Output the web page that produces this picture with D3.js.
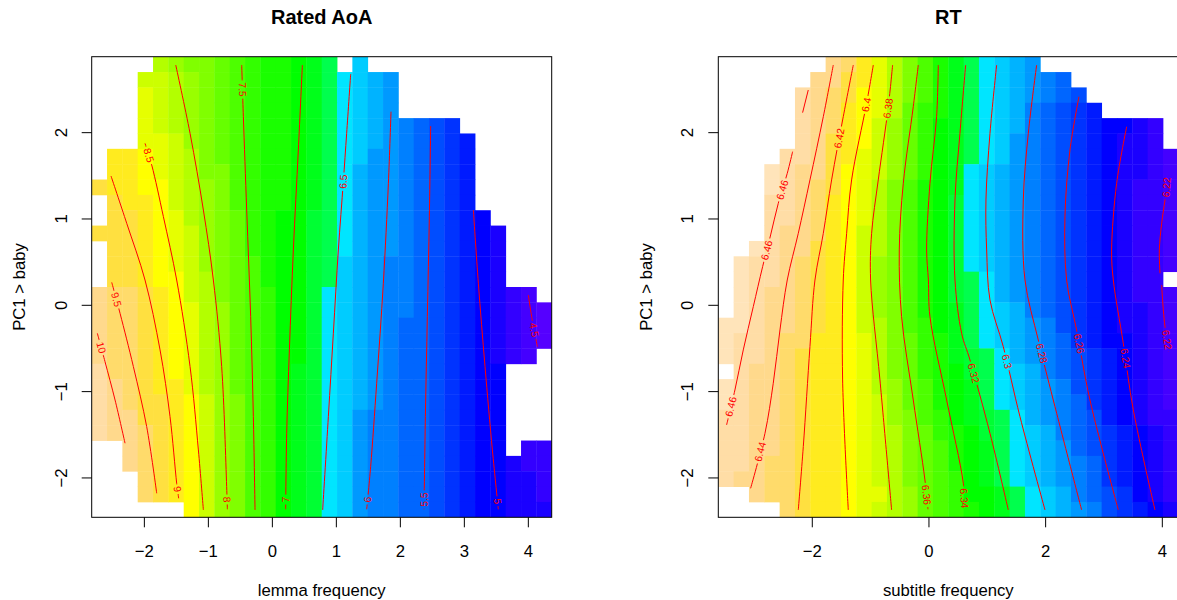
<!DOCTYPE html>
<html><head><meta charset="utf-8">
<script src="https://cdn.jsdelivr.net/npm/d3@7"></script>
<style>
body{margin:0;background:#fff}
svg{display:block}
text{font-family:"Liberation Sans",Arial,Helvetica,sans-serif}
</style>
</head><body>
<svg id="chart" width="1177" height="600"></svg>
<script>
// ---------------- data ----------------
const paletteKeys = "0123456789ABCDEFGHIJKLMNOPQRSTUVWX".split("");
const paletteColors = [
  "#FFE4BA","#FFDDA6","#FFD98C","#FFDB6B","#FFE040","#FFEB1F","#FFFF00","#E6FF00",
  "#CCFF00","#B3FF00","#99FF00","#80FF00","#66FF00","#4DFF00","#33FF00","#1AFF00",
  "#00FF00","#00FF1A","#00FF33","#00FF4D","#00E5FF","#00CCFF","#00B3FF","#0099FF",
  "#0080FF","#0066FF","#004DFF","#0033FF","#001AFF","#0000FF","#1A00FF","#3300FF",
  "#4400FF","#5500FF"];

const yDomain = [-2.456, 2.880];
const yTicks = [-2, -1, 0, 1, 2];

const aoaXDomain = [-2.823, 4.365];
const aoaXTicks = [-2, -1, 0, 1, 2, 3, 4];
const rtXDomain = [-3.611, 4.274];
const rtXTicks = [-2, 0, 2, 4];

const titles = ["Rated AoA", "RT"];
const xTitles = ["lemma frequency", "subtitle frequency"];
const yTitle = "PC1 > baby";

// colour class of each grid cell, top row first ('.' = no data)
const aoaRows = [
  "....9ABBCDEFFGHJ.L............",
  "...889ABCDEFFGHJKLMN..........",
  "...789ABCDEFFGHJKLMN..........",
  "...789ABCDEFFGHJKLMN..........",
  "...789ABCDEFFGHJKLMNOPQR......",
  "...778ABCDEFFGHJKLMNOPQRS.....",
  ".556789BCDEFFGHJKLNNOPQRS.....",
  ".556789BBDEFFGHJKMNNOPQRS.....",
  "4556689ABDEFFGHJKMNNOPQRS.....",
  ".455689ABDEFFGHJKMNNOPQRS.....",
  ".445679ABCEFGGIJKMNNOPQRST....",
  "4445678ABCEFGGIJKMNNOPQRSTU...",
  ".445678ABCEFGGIJKMNNOPQRSTU...",
  ".445678ABCDFGGIJLMNOOPQRSTU...",
  ".4456689BCDFGGIJLMNOOPQRSTU...",
  "23345689BCDEGGIKLMNOOPQRSTUVW.",
  "23345679ACDEGGIKLMNOOPQRSTUVWX",
  "23345679ACDEGGIKLMNOPPQRSTUVWX",
  "23345679ACDEGGIKLMNOPPQRSTUVWX",
  "23345679ACDEGGIKLMNOPPQRSTUVW.",
  "13345679ACDEGHIKLMNOPPQRSTT...",
  "12345579ACDEGHIKLMNOPPQRSTT...",
  "12344568ABDEGHIKLMNOPPQRSTT...",
  "12244568ABDEGHIKLNOOPPQRSTT...",
  "12234568ABDEGHIKLNOOPPQRSTT...",
  "..234568ABDEGHIKLNOOPPQRSTT.VV",
  "..234568ABDEGHIKLNOOPPQRSTTUVV",
  "...34568ABDEGHIKLNOOPPQRSTTUUV",
  "...34568ABDEGHIKLNOOPPQRSTTUUV",
  "......68ABDEGHIKLNOOPPQRSTTUUU"
];

const rtRows = [
  ".......23579BDFHJKLMN.........",
  "......224579BDFHJKLMNOP.......",
  ".....1234679BDFHJKLMNOPQ......",
  ".....1235679CEFHJKLMOPQRS.....",
  ".....123568ACEGHJKLMOPQRSTTUV.",
  ".....124568ACEGHJKLNOPQRSTUUV.",
  "....1124578ACEGHJKLNOPQRSTUUVW",
  "...01224678ACEGHKLMNOPQRSTUUVW",
  "...01234679BDFGHKLMNOPQRSTUVVW",
  "...11235679BDFGIKLMNOPQRSTUVVW",
  "...11235679BDFGIKLMNOPQRSTUVVW",
  "...12235689BDFGIKLMNOPQRSTUVVW",
  "..012245689BDFGIKLMNOPQRSTUVVW",
  ".011234568ABDFGIKLMNOPQRSTUVVW",
  ".011234568ABDFGIJKMNOPQRSTUVV.",
  ".012234568ABDFGIJKMNOPQRSTUVVW",
  ".012234568ABDFGHJKLMOPQRSTUUVW",
  "00122345689BDEGHJKLMNOQRSTUUVW",
  "01123355679BCEFHJKLMNOPRSTTUVW",
  "01123455679BCEFHIJKMNOPQRSTUVW",
  ".1223455679BCEFGIJKLMOPQRSTUVW",
  "01223455679ACDFGHJKLMNOQRSTUVW",
  "01223455678ACDFGHJKLMNOPRSTUVW",
  "11223455678ABDEGHIJKMNOPQSTUVV",
  "112234556789BCEFGIJKLMOPQRSTUV",
  "112234556789BCDFGHJKLMNPQRSTUV",
  "112334556789BCDFGHJKLMNOPRSTUV",
  "122334556789BCDEGHJKLMNOPRSTUV",
  "..2334556779ACDEGGHJKLMOPQRTUV",
  "....34556789ACDEFGHJKLMNOQRSTU"
];

// contour lines (data coordinates) with label anchor points
const aoaContours = [
  {level: 10,  pts: [[-2.735,-0.324],[-2.615,-0.653],[-2.458,-1.097],[-2.302,-1.598]], labels: [[-2.68,-0.49]]},
  {level: 9.5, pts: [[-2.510,0.266],[-2.380,-0.093],[-2.172,-0.710],[-1.964,-1.405],[-1.807,-2.178]], labels: [[-2.458,0.062]]},
  {level: 9,   pts: [[-2.521,1.498],[-2.276,0.950],[-1.990,0.293],[-1.755,-0.517],[-1.599,-1.290],[-1.495,-2.062],[-1.464,-2.236]], labels: [[-1.484,-2.131]]},
  {level: 8.5, pts: [[-1.990,1.876],[-1.885,1.625],[-1.703,1.027],[-1.495,0.293],[-1.286,-0.710],[-1.156,-1.676],[-1.078,-2.371]], labels: [[-1.964,1.730]]},
  {level: 8,   pts: [[-1.510,2.784],[-1.286,1.992],[-1.078,1.104],[-0.922,0.293],[-0.792,-0.710],[-0.714,-2.100],[-0.703,-2.363]], labels: [[-0.708,-2.25]]},
  {level: 7.5, pts: [[-0.479,2.784],[-0.453,2.185],[-0.401,1.104],[-0.339,-0.131],[-0.297,-1.290],[-0.271,-2.371]], labels: [[-0.479,2.50]]},
  {level: 7,   pts: [[0.469,2.784],[0.406,1.799],[0.328,0.641],[0.266,-0.517],[0.224,-1.483],[0.208,-2.363]], labels: [[0.208,-2.25]]},
  {level: 6.5, pts: [[1.224,2.680],[1.161,1.992],[1.109,1.432],[1.031,0.641],[0.953,-0.324],[0.875,-1.290],[0.786,-2.371]], labels: [[1.109,1.432]]},
  {level: 6,   pts: [[1.854,2.243],[1.813,1.413],[1.734,0.255],[1.630,-0.903],[1.536,-1.869],[1.474,-2.363]], labels: [[1.484,-2.25]]},
  {level: 5.5, pts: [[2.474,2.077],[2.453,1.027],[2.422,-0.131],[2.391,-1.290],[2.370,-2.363]], labels: [[2.365,-2.25]]},
  {level: 5,   pts: [[3.141,1.104],[3.219,0.255],[3.323,-0.710],[3.438,-1.676],[3.531,-2.363]], labels: [[3.52,-2.27]]},
  {level: 4.5, pts: [[4.0,0.120],[4.052,-0.131],[4.141,-0.479]], labels: [[4.078,-0.286]]}
];

const rtContours = [
  {level: 6.46, pts: [[-2.069,2.494],[-2.166,2.232]], labels: []},
  {level: 6.46, pts: [[-2.337,1.780],[-2.429,1.529],[-2.583,1.181],[-2.714,0.815],[-2.851,0.448],[-3.011,-0.015],[-3.183,-0.517],[-3.326,-0.981],[-3.469,-1.386]], labels: [[-2.509,1.336],[-2.794,0.641],[-3.4,-1.174]]},
  {level: 6.44, pts: [[-1.640,2.784],[-1.811,2.185],[-2.040,1.452],[-2.240,0.834],[-2.429,0.293],[-2.554,-0.286],[-2.669,-0.903],[-2.811,-1.483],[-3.057,-2.120]], labels: [[-2.897,-1.695]]},
  {level: 6.42, pts: [[-1.297,2.784],[-1.469,2.185],[-1.669,1.452],[-1.811,0.834],[-1.954,0.293],[-2.040,-0.479],[-2.154,-1.637],[-2.240,-2.371]], labels: [[-1.537,1.934]]},
  {level: 6.4,  pts: [[-0.954,2.784],[-1.069,2.340],[-1.326,1.452],[-1.411,0.834],[-1.469,0.293],[-1.480,-0.865],[-1.383,-2.371]], labels: [[-1.051,2.320]]},
  {level: 6.38, pts: [[-0.623,2.784],[-0.697,2.301],[-0.869,1.452],[-0.983,0.834],[-1.0,0.293],[-0.840,-0.865],[-0.640,-2.371]], labels: [[-0.709,2.282]]},
  {level: 6.36, pts: [[-0.183,2.784],[-0.269,2.301],[-0.440,1.413],[-0.509,0.641],[-0.469,-0.131],[-0.269,-1.097],[-0.069,-2.023],[-0.017,-2.363]], labels: [[-0.04,-2.197]]},
  {level: 6.34, pts: [[0.160,2.784],[0.131,2.185],[0.017,1.413],[-0.040,0.641],[-0.010,0.293],[0.017,-0.131],[0.303,-1.097],[0.589,-2.062],[0.617,-2.363]], labels: [[0.617,-2.236]]},
  {level: 6.32, pts: [[0.629,2.784],[0.531,1.992],[0.446,1.220],[0.446,0.293],[0.560,-0.324],[0.703,-0.633],[1.046,-1.483],[1.360,-2.371]], labels: [[0.76,-0.788]]},
  {level: 6.3,  pts: [[1.160,2.784],[1.046,1.992],[0.977,1.220],[0.989,0.641],[1.046,0.062],[1.274,-0.479],[1.560,-1.290],[1.989,-2.371]], labels: [[1.32,-0.653]]},
  {level: 6.28, pts: [[1.846,2.784],[1.703,1.992],[1.617,1.220],[1.646,0.293],[1.874,-0.402],[2.131,-1.097],[2.617,-2.371]], labels: [[1.931,-0.556]]},
  {level: 6.26, pts: [[2.571,2.417],[2.417,1.799],[2.331,1.027],[2.360,0.293],[2.531,-0.286],[2.760,-1.097],[3.246,-2.371]], labels: [[2.6,-0.44]]},
  {level: 6.24, pts: [[3.389,2.069],[3.217,1.413],[3.131,0.641],[3.160,0.293],[3.331,-0.440],[3.503,-1.212],[3.874,-2.371]], labels: [[3.389,-0.614]]},
  {level: 6.22, pts: [[4.086,1.471],[4.074,1.367],[4.046,1.220],[3.989,0.950],[3.949,0.641],[3.960,0.371]], labels: [[4.074,1.367]]},
  {level: 6.22, pts: [[3.989,0.236],[4.017,-0.054],[4.046,-0.247],[4.086,-0.421],[4.103,-0.537]], labels: [[4.074,-0.40]]}
];

// ---------------- drawing ----------------
const W = 1177, H = 600;
const svg = d3.select("#chart");
const defs = svg.append("defs");
const color = d3.scaleOrdinal().domain(paletteKeys).range(paletteColors);

const panels = [
  {id: "aoa", left: 91.7, xDomain: aoaXDomain, xTicks: aoaXTicks, rows: aoaRows, contours: aoaContours, title: titles[0], xTitle: xTitles[0]},
  {id: "rt", left: 718.3, xDomain: rtXDomain, xTicks: rtXTicks, rows: rtRows, contours: rtContours, title: titles[1], xTitle: xTitles[1]}
];
const TOP = 56.7, PW = 460, PH = 460.6;

panels.forEach(p => {
  const left = p.left, right = left + PW, bottom = TOP + PH;
  const x = d3.scaleLinear().domain(p.xDomain).range([left, right]);
  const y = d3.scaleLinear().domain(yDomain).range([bottom, TOP]);
  const g = svg.append("g");

  defs.append("clipPath").attr("id", "clip-" + p.id)
    .append("rect").attr("x", left).attr("y", TOP).attr("width", PW).attr("height", PH);

  // cells
  const nRows = p.rows.length, nCols = 30;
  const dx = (p.xDomain[1] - p.xDomain[0]) / nCols;
  const dy = (yDomain[1] - yDomain[0]) / nRows;
  const cells = [];
  p.rows.forEach((row, r) => {
    const s = row.padEnd(nCols, ".").slice(0, nCols);
    s.split("").forEach((k, c) => { if (k !== ".") cells.push({r, c, k}); });
  });
  g.append("g").attr("clip-path", `url(#clip-${p.id})`)
    .selectAll("rect").data(cells).join("rect")
    .attr("x", d => x(p.xDomain[0] + d.c * dx))
    .attr("y", d => y(yDomain[1] - d.r * dy))
    .attr("width", d => x(p.xDomain[0] + (d.c + 1) * dx) - x(p.xDomain[0] + d.c * dx) + 0.4)
    .attr("height", d => y(yDomain[1] - (d.r + 1) * dy) - y(yDomain[1] - d.r * dy) + 0.4)
    .attr("fill", d => color(d.k));

  // contours
  const maskId = "mask-" + p.id;
  const mask = defs.append("mask").attr("id", maskId)
    .attr("maskUnits", "userSpaceOnUse").attr("x", 0).attr("y", 0).attr("width", W).attr("height", H);
  mask.append("rect").attr("x", 0).attr("y", 0).attr("width", W).attr("height", H).attr("fill", "white");

  const cg = g.append("g").attr("clip-path", `url(#clip-${p.id})`);
  const line = d3.line().x(d => x(d[0])).y(d => y(d[1])).curve(d3.curveCatmullRom.alpha(0.5));
  cg.append("g").attr("mask", `url(#${maskId})`)
    .selectAll("path").data(p.contours).join("path")
    .attr("d", d => line(d.pts))
    .attr("fill", "none").attr("stroke", "#ff0000").attr("stroke-width", 1);

  p.contours.forEach(ct => {
    const P = ct.pts.map(q => [x(q[0]), y(q[1])]);
    (ct.labels || []).forEach(lp => {
      const L = [x(lp[0]), y(lp[1])];
      let best = null;
      for (let i = 0; i < P.length - 1; i++) {
        const a = P[i], b = P[i + 1];
        const vx = b[0] - a[0], vy = b[1] - a[1];
        const len2 = vx * vx + vy * vy || 1;
        let t = ((L[0] - a[0]) * vx + (L[1] - a[1]) * vy) / len2;
        t = Math.max(0, Math.min(1, t));
        const px = a[0] + t * vx, py = a[1] + t * vy;
        const dd = (px - L[0]) ** 2 + (py - L[1]) ** 2;
        if (!best || dd < best.dd) best = {dd, px, py, vx, vy};
      }
      let ang = Math.atan2(best.vy, best.vx) * 180 / Math.PI;
      if (ang > 90) ang -= 180;
      if (ang <= -90) ang += 180;
      const tr = `translate(${best.px},${best.py}) rotate(${ang})`;
      const t = cg.append("text").attr("transform", tr)
        .attr("text-anchor", "middle").attr("dy", "0.35em")
        .attr("font-size", 10.3).attr("fill", "#ff0000")
        .text(String(ct.level));
      const w = t.node().getComputedTextLength();
      mask.append("rect").attr("transform", tr)
        .attr("x", -w / 2 - 2).attr("y", -4.5).attr("width", w + 4).attr("height", 9)
        .attr("fill", "black");
    });
  });

  // box
  g.append("rect").attr("x", left).attr("y", TOP).attr("width", PW).attr("height", PH)
    .attr("fill", "none").attr("stroke", "#000").attr("stroke-width", 1);

  // x axis ticks + labels
  const fmt = d3.format("d");
  const xa = g.append("g");
  xa.selectAll("line").data(p.xTicks).join("line")
    .attr("x1", d => x(d)).attr("x2", d => x(d)).attr("y1", bottom).attr("y2", bottom + 10)
    .attr("stroke", "#000");
  xa.selectAll("text").data(p.xTicks).join("text")
    .attr("x", d => x(d)).attr("y", 556.5).attr("text-anchor", "middle")
    .attr("font-size", 16.7).attr("fill", "#000").text(d => fmt(d));

  // y axis ticks + labels
  const ya = g.append("g");
  ya.selectAll("line").data(yTicks).join("line")
    .attr("x1", left - 10).attr("x2", left).attr("y1", d => y(d)).attr("y2", d => y(d))
    .attr("stroke", "#000");
  ya.selectAll("text").data(yTicks).join("text")
    .attr("transform", d => `translate(${left - 25},${y(d)}) rotate(-90)`)
    .attr("text-anchor", "middle").attr("font-size", 16.7).attr("fill", "#000")
    .text(d => fmt(d));

  // titles
  const cx = left + PW / 2;
  g.append("text").attr("x", cx).attr("y", 23.5).attr("text-anchor", "middle")
    .attr("font-size", 20).attr("font-weight", "bold").attr("fill", "#000").text(p.title);
  g.append("text").attr("x", cx).attr("y", 596).attr("text-anchor", "middle")
    .attr("font-size", 16.7).attr("fill", "#000").text(p.xTitle);
  g.append("text").attr("transform", `translate(${left - 66.5},${TOP + PH / 2}) rotate(-90)`)
    .attr("text-anchor", "middle").attr("font-size", 16.7).attr("fill", "#000").text(yTitle);
});
</script>
</body></html>
